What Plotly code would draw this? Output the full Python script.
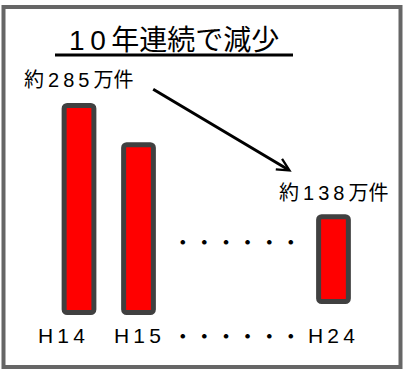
import plotly.graph_objects as go

# ---- data ----
categories = ["H14", "H15", "H24"]
bar_heights = [285, 231, 117]          # drawn heights (illustrative, arbitrary units)
bar_bases = [0, 0, 15]
value_labels = ["約285万件", "約138万件"]
title_text = "10年連続で減少"
ellipsis = "・・・・・・"

# ---- layout helpers (styles / positions) ----
W, H = 403, 369
slots = [0, 1, 4.277]                  # horizontal slot of each bar
PX_X = 59.5                            # px per slot unit
X0 = 79                                # pixel of slot 0
PX_Y = 207 / 285                       # px per value unit
Y0 = 312.5                             # pixel of value 0

def px(x):
    return x / W

def py(y):
    return 1 - y / H

TS = "\u2009"
def spaced(s, all_chars=False):
    out = ""
    for i, ch in enumerate(s):
        out += ch
        if i < len(s) - 1 and (all_chars or ch.isascii() or s[i + 1].isascii()):
            out += TS
    return out

FONT = "Liberation Sans, Arial, Noto Sans CJK JP"
DOT_FONT = "Noto Sans CJK JP"

fig = go.Figure()
fig.add_trace(go.Bar(
    x=slots, y=bar_heights, base=bar_bases, width=0.5,
    marker=dict(color="#ff0000", line=dict(color="#404040", width=5)),
    hoverinfo="skip",
))

fig.update_layout(
    width=W, height=H,
    margin=dict(l=0, r=0, t=0, b=0),
    paper_bgcolor="white", plot_bgcolor="white",
    showlegend=False,
    barcornerradius=3,
    xaxis=dict(visible=False, range=[-X0 / PX_X, (W - X0) / PX_X], fixedrange=True),
    yaxis=dict(visible=False, range=[-(H - Y0) / PX_Y, Y0 / PX_Y], fixedrange=True),
)

# frame
fig.add_shape(type="rect", xref="paper", yref="paper",
              x0=px(3.5), x1=px(400.5), y0=py(367), y1=py(7),
              line=dict(color="#666666", width=4), fillcolor="rgba(0,0,0,0)", layer="below")

# title + underline
fig.add_annotation(xref="paper", yref="paper", x=px(174), y=py(40),
                   text=spaced(title_text), showarrow=False,
                   font=dict(family=FONT, size=28, color="black"),
                   xanchor="center", yanchor="middle")
fig.add_shape(type="line", xref="paper", yref="paper",
              x0=px(55), x1=px(293), y0=py(55), y1=py(55),
              line=dict(color="black", width=3))

# value labels
fig.add_annotation(xref="paper", yref="paper", x=px(78), y=py(80),
                   text=spaced(value_labels[0]), showarrow=False,
                   font=dict(family=FONT, size=20, color="black"),
                   xanchor="center", yanchor="middle")
fig.add_annotation(xref="paper", yref="paper", x=px(333), y=py(192.5),
                   text=spaced(value_labels[1]), showarrow=False,
                   font=dict(family=FONT, size=20, color="black"),
                   xanchor="center", yanchor="middle")

# arrow
fig.add_annotation(xref="paper", yref="paper", x=px(291.7), y=py(171.7),
                   ax=-140, ay=-83.4, axref="pixel", ayref="pixel",
                   text="", showarrow=True, arrowhead=5, arrowsize=0.8,
                   arrowwidth=3, arrowcolor="black", standoff=0)

# category labels
label_shift = [-18, -1, -2]
for s, c, sh in zip(slots, categories, label_shift):
    fig.add_annotation(x=s, xref="x", yref="paper", y=py(335), xshift=sh,
                       text=spaced(c), showarrow=False,
                       font=dict(family=FONT, size=21, color="black"),
                       xanchor="center", yanchor="middle")

# ellipsis rows
for yy in (240, 334.3):
    fig.add_annotation(xref="paper", yref="paper", x=px(236.7), y=py(yy),
                       text=ellipsis, showarrow=False,
                       font=dict(family=DOT_FONT, size=21.6, color="black"),
                       xanchor="center", yanchor="middle")

fig.write_html("out.html")
